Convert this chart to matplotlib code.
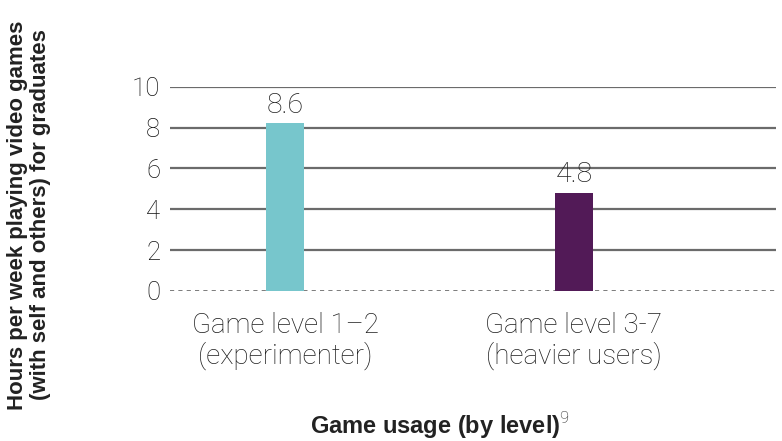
import matplotlib
matplotlib.use('Agg')
import matplotlib.pyplot as plt

# values as drawn in the chart, and the labels printed on the bars
categories = ['Game level 1\u20132\n(experimenter)', 'Game level 3-7\n(heavier users)']
bar_heights = [8.2, 4.8]
bar_labels = ['8.6', '4.8']
bar_colors = ['#77c6cc', '#521a57']
y_ticks = [0, 2, 4, 6, 8, 10]

plt.rcParams['font.family'] = ['Roboto', 'DejaVu Sans']
plt.rcParams['mathtext.fontset'] = 'custom'
plt.rcParams['mathtext.rm'] = 'Roboto:light'

fig = plt.figure(figsize=(7.82, 4.41), dpi=100)
ax = fig.add_axes([170/782, 1 - 291/441, 606/782, (291 - 86.7)/441])

x = list(range(len(categories)))
bars = ax.bar(x, bar_heights, width=0.131, color=bar_colors, zorder=3)

for rect, lab in zip(bars, bar_labels):
    ax.text(rect.get_x() + rect.get_width() / 2.0, rect.get_height() + 0.22, lab,
            ha='center', va='bottom', fontsize=20.5, color='#222222', weight='light', zorder=4)

# gridlines
for t in y_ticks:
    if t == 0:
        ax.axhline(0, color='#666666', lw=1.2, ls=(0, (2.5, 2.5)), zorder=2)
    else:
        ax.axhline(t, color='#6b6b6b', lw=1.6, zorder=1)

ax.set_xlim(-0.398, 1.699)
ax.set_ylim(0, 10)
ax.set_yticks(y_ticks)
ax.set_yticklabels([str(t) for t in y_ticks], fontsize=18.5, color='#111111', weight='light')
ax.set_xticks(x)
ax.set_xticklabels(categories, fontsize=20, color='#1e1e1e', weight='light', linespacing=1.1)
ax.tick_params(axis='both', length=0)
ax.tick_params(axis='y', pad=7)
ax.tick_params(axis='x', pad=15)
for s in ax.spines.values():
    s.set_visible(False)

bold = ['Liberation Sans', 'DejaVu Sans']
fig.text(440/782, 1 - 426/441, r'Game usage (by level)$^{9}$', fontsize=17, weight='bold',
         family=bold, color='#222222', ha='center', va='center')
fig.text(29/782, 1 - 215/441,
         'Hours per week playing video games\n(with self and others) for graduates',
         fontsize=16, weight='bold', family=bold, color='#222222',
         rotation=90, ha='center', va='center', linespacing=1.1, multialignment='center')

fig.savefig('out.png', dpi=100)
